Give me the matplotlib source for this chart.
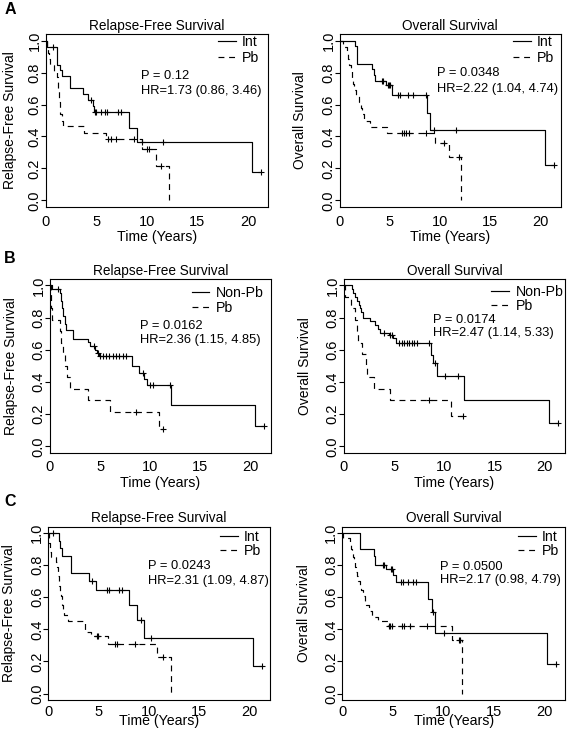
import matplotlib.pyplot as plt
import numpy as np

plt.rcParams['font.family'] = ['Liberation Sans', 'DejaVu Sans']

# ---- Panel A: relapse-free survival (Int vs Pb) ----
a_rfs_int_t = [0.1, 1.15, 1.42, 1.62, 2.41, 3.73, 4.16, 4.65, 4.79, 8.2, 9.0, 20.4]
a_rfs_int_s = [0.963, 0.85, 0.815, 0.778, 0.704, 0.667, 0.63, 0.593, 0.555, 0.455, 0.365, 0.18]
a_rfs_int_cens = [0.76, 4.45, 4.84, 4.94, 5.44, 5.87, 6.1, 7.16, 7.43, 9.5, 11.55, 21.3]
a_rfs_int_end = 21.3

a_rfs_pb_t = [0.1, 0.2, 0.3, 0.45, 0.85, 1.15, 1.2, 1.25, 1.3, 1.35, 1.4, 1.45, 1.6, 1.75,
              3.8, 6.0, 9.5, 10.9, 12.2]
a_rfs_pb_s = [0.96, 0.92, 0.885, 0.846, 0.808, 0.77, 0.73, 0.69, 0.65, 0.615, 0.577, 0.54, 0.50, 0.465,
              0.42, 0.384, 0.32, 0.218, 0.0]
a_rfs_pb_cens = [6.2, 6.5, 6.96, 8.7, 10.0, 10.2, 11.4]
a_rfs_pb_end = 12.2

# ---- Panel A: overall survival ----
a_os_int_t = [1.5, 1.7, 3.25, 3.4, 3.55, 4.6, 5.25, 8.65, 8.95, 20.4]
a_os_int_s = [0.964, 0.857, 0.821, 0.786, 0.75, 0.72, 0.66, 0.55, 0.44, 0.22]
a_os_int_cens = [4.2, 4.35, 4.8, 4.9, 5.0, 5.8, 6.05, 6.75, 7.3, 8.6, 9.35, 11.6, 21.3]
a_os_int_end = 21.3

a_os_pb_t = [0.3, 0.7, 0.85, 0.95, 1.1, 1.2, 1.3, 1.45, 1.6, 1.9, 2.1, 2.2, 2.4, 3.0, 4.7,
             9.45, 10.9, 12.1]
a_os_pb_s = [0.962, 0.923, 0.885, 0.846, 0.808, 0.769, 0.731, 0.692, 0.654, 0.615, 0.577, 0.538, 0.50,
             0.462, 0.423, 0.36, 0.27, 0.0]
a_os_pb_cens = [6.2, 6.4, 6.6, 6.9, 8.6, 10.35, 11.9]
a_os_pb_end = 12.1

# ---- Panel B: relapse-free survival (Non-Pb vs Pb) ----
b_rfs_npb_t = [0.2, 1.0, 1.1, 1.2, 1.3, 1.45, 1.6, 2.3, 3.75, 4.0, 4.5, 4.7, 4.9, 8.2, 8.9, 9.4,
               9.65, 12.1, 20.4]
b_rfs_npb_s = [0.977, 0.953, 0.905, 0.858, 0.81, 0.763, 0.72, 0.67, 0.648, 0.625, 0.60, 0.58, 0.56,
               0.50, 0.455, 0.42, 0.38, 0.255, 0.128]
b_rfs_npb_cens = [0.8, 4.35, 4.75, 5.0, 5.3, 5.6, 5.85, 6.25, 6.55, 6.85, 7.25, 7.55, 9.3, 10.0,
                  10.25, 11.95, 21.3]
b_rfs_npb_end = 21.3

b_rfs_pb_t = [0.05, 0.1, 0.17, 0.95, 1.1, 1.3, 1.5, 1.65, 2.0, 3.8, 6.0, 10.85]
b_rfs_pb_s = [0.929, 0.857, 0.786, 0.714, 0.643, 0.571, 0.50, 0.429, 0.357, 0.286, 0.214, 0.107]
b_rfs_pb_cens = [8.6, 11.3]
b_rfs_pb_end = 11.3

# ---- Panel B: overall survival ----
b_os_npb_t = [0.78, 0.9, 1.1, 1.3, 1.45, 1.6, 1.7, 1.85, 2.6, 3.05, 3.35, 3.6, 4.5, 4.9, 5.15,
              8.65, 8.9, 9.25, 11.9, 20.4]
b_os_npb_s = [0.976, 0.952, 0.929, 0.905, 0.881, 0.857, 0.833, 0.80, 0.777, 0.754, 0.73, 0.707,
              0.69, 0.672, 0.64, 0.57, 0.52, 0.435, 0.29, 0.145]
b_os_npb_cens = [4.0, 4.6, 4.8, 5.5, 5.75, 6.0, 6.25, 6.5, 6.75, 7.0, 7.3, 8.5, 9.1, 10.1, 11.3, 21.3]
b_os_npb_end = 21.3

b_os_pb_t = [0.13, 0.71, 1.1, 1.25, 1.4, 1.8, 2.2, 2.25, 2.95, 4.6, 10.7]
b_os_pb_s = [0.929, 0.857, 0.786, 0.714, 0.643, 0.571, 0.50, 0.429, 0.357, 0.286, 0.19]
b_os_pb_cens = [8.5, 11.8]
b_os_pb_end = 11.8

# ---- Panel C: relapse-free survival (Int vs Pb) ----
c_rfs_int_t = [1.1, 1.15, 1.35, 2.3, 4.05, 4.7, 8.05, 8.8, 9.45, 20.3]
c_rfs_int_s = [0.95, 0.905, 0.855, 0.75, 0.70, 0.645, 0.55, 0.46, 0.345, 0.17]
c_rfs_int_cens = [0.5, 4.35, 5.85, 6.0, 7.0, 7.3, 9.15, 10.15, 21.2]
c_rfs_int_end = 21.2

c_rfs_pb_t = [0.05, 0.1, 0.15, 0.2, 0.3, 0.75, 0.9, 0.95, 1.0, 1.05, 1.1, 1.2, 1.25, 1.35, 1.4,
              1.45, 1.55, 1.95, 3.65, 4.25, 5.95, 10.75, 12.15]
c_rfs_pb_s = [0.97, 0.94, 0.91, 0.88, 0.85, 0.82, 0.79, 0.76, 0.73, 0.70, 0.67, 0.64, 0.61, 0.58, 0.55,
              0.52, 0.49, 0.455, 0.386, 0.357, 0.31, 0.23, 0.0]
c_rfs_pb_cens = [4.85, 4.95, 6.6, 6.85, 8.6, 11.4]
c_rfs_pb_end = 12.15

# ---- Panel C: overall survival ----
c_os_int_t = [1.76, 3.1, 3.27, 4.3, 5.05, 5.3, 8.46, 8.82, 9.2, 20.2]
c_os_int_s = [0.90, 0.86, 0.80, 0.777, 0.74, 0.694, 0.59, 0.506, 0.375, 0.183]
c_os_int_cens = [4.0, 4.15, 4.8, 4.9, 5.8, 5.95, 6.45, 7.0, 7.25, 9.0, 10.0, 21.1]
c_os_int_end = 21.1

c_os_pb_t = [0.1, 0.72, 0.85, 0.95, 1.05, 1.15, 1.25, 1.35, 1.5, 1.6, 1.75, 1.85, 2.0, 2.2, 2.35,
             2.65, 2.95, 3.5, 4.55, 10.8, 11.85]
c_os_pb_s = [0.97, 0.933, 0.90, 0.88, 0.85, 0.82, 0.79, 0.76, 0.73, 0.70, 0.67, 0.645, 0.61, 0.58, 0.55,
             0.515, 0.48, 0.454, 0.423, 0.333, 0.0]
c_os_pb_cens = [4.65, 4.75, 4.9, 5.9, 6.1, 6.7, 8.35, 11.5, 11.65]
c_os_pb_end = 11.85

W, H = 567, 736


def km(ax, t, s, cens, end, ls, label):
    t = np.asarray(t)
    s = np.asarray(s)
    xs = np.concatenate([[0], t, [end]])
    ys = np.concatenate([[1.0], s, [s[-1]]])
    line, = ax.step(xs, ys, where='post', color='black', lw=0.85, linestyle=ls, label=label)
    if ls == '--':
        line.set_dashes((5, 4))
    full_t = np.concatenate([[0], t])
    full_s = np.concatenate([[1.0], s])
    cy = full_s[np.searchsorted(full_t, cens, side='right') - 1]
    ax.plot(cens, cy, linestyle='none', marker='+', ms=5, mew=0.8, color='black')
    return line


def panel(box, title, ylab, curves, labels, stats, stat_xy, leg_xy, xlab_y, ylab_x, xpad, legsp):
    x0, y0, x1, y1 = box
    ax = fig.add_axes([x0 / W, 1 - y1 / H, (x1 - x0) / W, (y1 - y0) / H])
    h1 = km(ax, *curves[0], '-', labels[0])
    h2 = km(ax, *curves[1], '--', labels[1])
    ax.set_xlim(0, 22)
    ax.set_ylim(-0.04, 1.04)
    ax.set_xticks([0, 5, 10, 15, 20])
    ax.set_yticks([0, 0.2, 0.4, 0.6, 0.8, 1.0])
    ax.set_yticklabels(['0.0', '0.2', '0.4', '0.6', '0.8', '1.0'], rotation=90, va='center')
    ax.tick_params(axis='x', length=0, pad=xpad, labelsize=10.5)
    ax.tick_params(axis='y', length=3.5, width=0.8, pad=-0.5, labelsize=10.5)
    for sp in ax.spines.values():
        sp.set_linewidth(0.8)
    ax.set_title(title, fontsize=9.8, pad=3.2)
    ax.set_ylabel(ylab, fontsize=10)
    ax.yaxis.set_label_coords(ylab_x, 0.5)
    ax.set_xlabel('Time (Years)', fontsize=10.2)
    ax.xaxis.set_label_coords(0.5, xlab_y)
    ax.legend(handles=[h1, h2], loc='upper left', bbox_to_anchor=leg_xy, frameon=False,
              borderpad=0, borderaxespad=0, handlelength=1.25, handletextpad=0.45,
              labelspacing=legsp, fontsize=10.2)
    ax.text(stat_xy[0], stat_xy[1], stats[0], fontsize=9.3, va='center')
    ax.text(stat_xy[0], stat_xy[2], stats[1], fontsize=9.3, va='center')
    return ax


fig = plt.figure(figsize=(W / 100, H / 100), dpi=100)

panel((45.7, 34.3, 268.3, 206.7), 'Relapse-Free Survival', 'Relapse-Free Survival',
      [(a_rfs_int_t, a_rfs_int_s, a_rfs_int_cens, a_rfs_int_end),
       (a_rfs_pb_t, a_rfs_pb_s, a_rfs_pb_cens, a_rfs_pb_end)],
      ['Int', 'Pb'], ['P = 0.12', 'HR=1.73 (0.86, 3.46)'], (9.4, 0.776, 0.683),
      (0.774, 0.996), -0.137, -0.13, 6.0, 0.15)
panel((339.7, 34.3, 560.7, 206.7), 'Overall Survival', 'Overall Survival',
      [(a_os_int_t, a_os_int_s, a_os_int_cens, a_os_int_end),
       (a_os_pb_t, a_os_pb_s, a_os_pb_cens, a_os_pb_end)],
      ['Int', 'Pb'], ['P = 0.0348', 'HR=2.22 (1.04, 4.74)'], (9.7, 0.797, 0.70),
      (0.784, 0.996), -0.137, -0.148, 6.0, 0.15)
panel((50, 279, 270.7, 452.7), 'Relapse-Free Survival', 'Relapse-Free Survival',
      [(b_rfs_npb_t, b_rfs_npb_s, b_rfs_npb_cens, b_rfs_npb_end),
       (b_rfs_pb_t, b_rfs_pb_s, b_rfs_pb_cens, b_rfs_pb_end)],
      ['Non-Pb', 'Pb'], ['P = 0.0162', 'HR=2.36 (1.15, 4.85)'], (8.93, 0.749, 0.661),
      (0.642, 0.958), -0.134, -0.146, 5.2, 0.02)
panel((344, 279, 565, 452.7), 'Overall Survival', 'Overall Survival',
      [(b_os_npb_t, b_os_npb_s, b_os_npb_cens, b_os_npb_end),
       (b_os_pb_t, b_os_pb_s, b_os_pb_cens, b_os_pb_end)],
      ['Non-Pb', 'Pb'], ['P = 0.0174', 'HR=2.47 (1.14, 5.33)'], (8.82, 0.786, 0.703),
      (0.667, 0.964), -0.134, -0.146, 5.2, 0.0)
panel((48.3, 526.7, 270, 700), 'Relapse-Free Survival', 'Relapse-Free Survival',
      [(c_rfs_int_t, c_rfs_int_s, c_rfs_int_cens, c_rfs_int_end),
       (c_rfs_pb_t, c_rfs_pb_s, c_rfs_pb_cens, c_rfs_pb_end)],
      ['Int', 'Pb'], ['P = 0.0243', 'HR=2.31 (1.09, 4.87)'], (9.86, 0.798, 0.703),
      (0.775, 0.983), -0.078, -0.146, 3.5, 0.02)
panel((342.3, 526.7, 565, 700), 'Overall Survival', 'Overall Survival',
      [(c_os_int_t, c_os_int_s, c_os_int_cens, c_os_int_end),
       (c_os_pb_t, c_os_pb_s, c_os_pb_cens, c_os_pb_end)],
      ['Int', 'Pb'], ['P = 0.0500', 'HR=2.17 (0.98, 4.79)'], (9.7, 0.786, 0.709),
      (0.789, 0.983), -0.078, -0.142, 3.5, 0.02)

for letter, ypx in [('A', 9), ('B', 258), ('C', 501)]:
    fig.text(10 / W, 1 - ypx / H, letter, fontsize=11.5, fontweight='bold', ha='center', va='center')

fig.savefig('out.png', dpi=100)
